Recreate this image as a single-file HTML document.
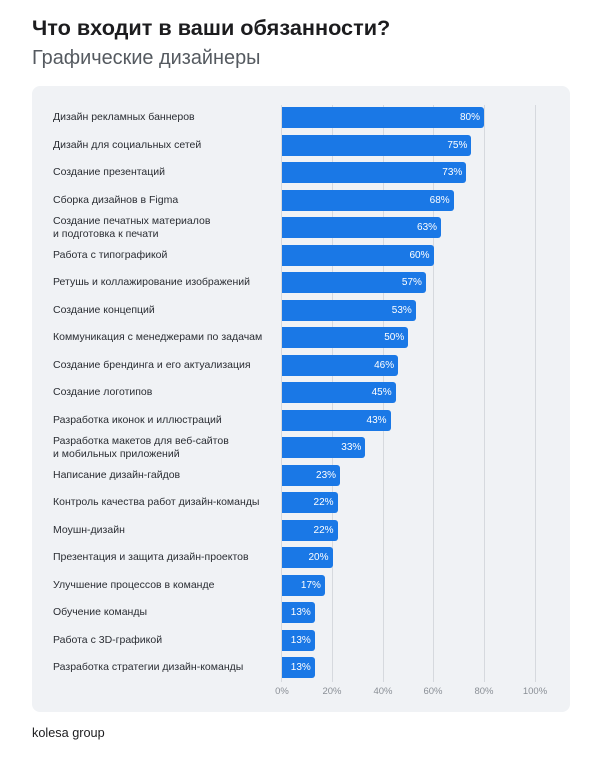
<!DOCTYPE html>
<html><head><meta charset="utf-8"><style>
body{margin:0;width:602px;height:759px;background:#fff;font-family:"Liberation Sans","DejaVu Sans",sans-serif;position:relative;overflow:hidden}
.t1{position:absolute;left:32px;top:15px;font-size:21.7px;font-weight:bold;color:#1c1c1e}
.t2{position:absolute;left:32px;top:47px;font-size:19.9px;color:#555a60}
.card{position:absolute;left:32px;top:86px;width:538px;height:626px;background:#f0f2f5;border-radius:8px}
.g{position:absolute;top:105px;height:577px;width:1px;background:#d6d9de}
.lab{position:absolute;left:53px;font-size:10.5px;color:#2a2d33;line-height:13px}
.bar{position:absolute;left:282px;height:21px;background:#1a78e6;border-radius:0 3px 3px 0;color:#fff;font-size:10px;line-height:21px;text-align:right;box-sizing:border-box;padding-right:4px}
.tk{position:absolute;top:686px;font-size:9.5px;color:#8a8f96;transform:translateX(-50%)}
.logo{position:absolute;left:32px;top:726px;font-size:12.7px;color:#1c1c1e}
</style></head><body>
<div class="t1">Что входит в ваши обязанности?</div>
<div class="t2">Графические дизайнеры</div>
<div class="card"></div>
<div class="g" style="left:281px"></div><div class="g" style="left:332px"></div><div class="g" style="left:383px"></div><div class="g" style="left:433px"></div><div class="g" style="left:484px"></div><div class="g" style="left:535px"></div>
<div id="c"></div>
<div class="tk" style="left:282px">0%</div><div class="tk" style="left:332px">20%</div><div class="tk" style="left:383px">40%</div><div class="tk" style="left:433px">60%</div><div class="tk" style="left:484px">80%</div><div class="tk" style="left:535px">100%</div>
<div class="logo">kolesa group</div>
<script>
var d=[["Дизайн рекламных баннеров",80],["Дизайн для социальных сетей",75],["Создание презентаций",73],["Сборка дизайнов в Figma",68],["Создание печатных материалов<br>и подготовка к печати",63],["Работа с типографикой",60],["Ретушь и коллажирование изображений",57],["Создание концепций",53],["Коммуникация с менеджерами по задачам",50],["Создание брендинга и его актуализация",46],["Создание логотипов",45],["Разработка иконок и иллюстраций",43],["Разработка макетов для веб-сайтов<br>и мобильных приложений",33],["Написание дизайн-гайдов",23],["Контроль качества работ дизайн-команды",22],["Моушн-дизайн",22],["Презентация и защита дизайн-проектов",20],["Улучшение процессов в команде",17],["Обучение команды",13],["Работа с 3D-графикой",13],["Разработка стратегии дизайн-команды",13]];
var h="";d.forEach(function(r,i){var c=117.5+i*27.5;var two=r[0].indexOf("<br>")>0;
h+='<div class="lab" style="top:'+(c-(two?13:6.5))+'px">'+r[0]+'</div>';
h+='<div class="bar" style="top:'+(c-10.5)+'px;width:'+(r[1]*2.525)+'px">'+r[1]+'%</div>';});
document.getElementById("c").innerHTML=h;
</script>
</body></html>
